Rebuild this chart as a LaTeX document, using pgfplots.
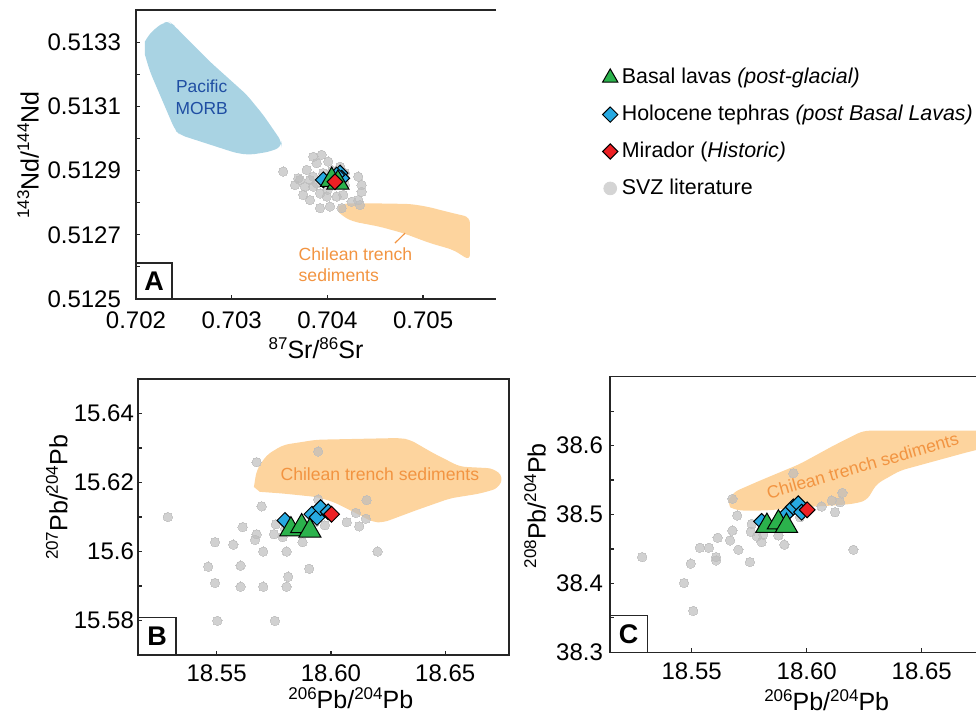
\documentclass[border=0pt]{standalone}
\usepackage{pgfplots}
\pgfplotsset{compat=1.18}
\usepackage{fontspec}
\setmainfont{Liberation Sans}
\definecolor{morb}{HTML}{A9D3E3}
\definecolor{morbtxt}{HTML}{1F4EA3}
\definecolor{sedfill}{HTML}{FDD49E}
\definecolor{sedtxt}{HTML}{F29441}
\definecolor{grn}{HTML}{2BB24C}
\definecolor{blu}{HTML}{27A9E1}
\definecolor{rd}{HTML}{ED2024}
\definecolor{svz}{HTML}{BDBDBD}
\definecolor{svzl}{HTML}{D4D4D4}
\newcommand{\sups}[1]{\raisebox{0.72ex}{\fontsize{8.5}{8.5}\selectfont #1}}
\pgfplotsset{
  panel/.style={scale only axis, anchor=south west,
    axis line style={line width=0.75pt, black!85},
    tick align=inside, tick pos=left,
    major tick length=2.2pt, minor tick length=2.2pt,
    every tick/.style={black!85, line width=0.6pt},
    tick label style={font=\fontsize{12}{14}\selectfont},
    clip=true},
  svzp/.style={only marks, mark=*, color=svz, mark size=2.35pt, mark options={draw=svz, fill=svz, line width=0pt, opacity=0.7}, forget plot},
  basal/.style={only marks, mark=triangle*, mark size=6.4pt, mark options={draw=black, line width=0.5pt, fill=grn}, forget plot},
  holo/.style={only marks, mark=square*, mark size=2.8pt, mark options={rotate=45, draw=black, line width=0.5pt, fill=blu}, forget plot},
  mira/.style={only marks, mark=square*, mark size=2.8pt, mark options={rotate=45, draw=black, line width=0.5pt, fill=rd}, forget plot},
}
\begin{document}
\begin{tikzpicture}
\useasboundingbox (0pt,0pt) rectangle (488pt,356.5pt);
\clip (0pt,0pt) rectangle (488pt,356.5pt);

% ---------------- Panel A ----------------
\begin{axis}[panel, at={(68pt,207pt)}, width=180pt, height=144.5pt, clip=false,
  axis line style={draw=none},
  xmin=0.702, xmax=0.705762, ymin=0.5125, ymax=0.5134,
  xtick={0.702,0.703,0.704,0.705}, xticklabels={0.702,0.703,0.704,0.705},
  ytick={0.5125,0.5127,0.5129,0.5131,0.5133}, yticklabels={0.5125,0.5127,0.5129,0.5131,0.5133},
  minor ytick={0.5126,0.5128,0.5130,0.5132},
  yticklabel style={xshift=-4pt}, xticklabel style={yshift=-3pt},
  legend cell align=left,
  legend image code/.code={\draw[#1] plot coordinates {(0pt,0pt)};},
  legend style={at={(1.295,0.813)}, anchor=north west, draw=none, fill=none,
    font=\fontsize{10.7}{12.8}\selectfont, row sep=5.2pt, inner sep=0pt},
]
\addlegendimage{mark=triangle*, mark size=4.4pt, mark options={draw=black, line width=0.5pt, fill=grn}}
\addlegendentry{Basal lavas \textit{(post-glacial)}}
\addlegendimage{mark=square*, mark size=2.7pt, mark options={rotate=45, draw=black, line width=0.5pt, fill=blu}}
\addlegendentry{Holocene tephras \textit{(post Basal Lavas)}}
\addlegendimage{mark=square*, mark size=2.7pt, mark options={rotate=45, draw=black, line width=0.5pt, fill=rd}}
\addlegendentry{Mirador (\textit{Historic)}}
\addlegendimage{mark=*, mark size=3.2pt, mark options={draw=svzl, fill=svzl}}
\addlegendentry{SVZ literature}

\addplot[fill=morb, draw=none, rounded corners=3pt, forget plot] coordinates {
 (0.702094,0.513302) (0.702146,0.513328) (0.702285,0.513362) (0.702355,0.513362) (0.702390,0.513354)
 (0.702773,0.513239) (0.703157,0.513136) (0.703330,0.513073) (0.703522,0.512990) (0.703522,0.512974)
 (0.703400,0.512959) (0.703191,0.512949) (0.703052,0.512954) (0.702460,0.513011) (0.702408,0.513026)
 (0.702146,0.513208) (0.702094,0.513260)};
\addplot[fill=sedfill, draw=none, rounded corners=3pt, forget plot] coordinates {
 (0.704114,0.512788) (0.704166,0.512798) (0.704445,0.512798) (0.704863,0.512796) (0.705038,0.512788)
 (0.705316,0.512767) (0.705490,0.512755) (0.705490,0.512620) (0.705316,0.512653) (0.705072,0.512674)
 (0.704793,0.512705) (0.704550,0.512725) (0.704271,0.512741) (0.704166,0.512756) (0.704114,0.512772)};
\addplot[sedtxt, line width=0.6pt, forget plot] coordinates {(0.704706,0.512674) (0.704811,0.512705)};
\node[text=morbtxt, align=center, font=\fontsize{8.7}{10.8}\selectfont] at (axis cs:0.702686,0.513128) {Pacific\\MORB};
\node[text=sedtxt, align=left, anchor=west, inner sep=0pt, font=\fontsize{8.8}{10.5}\selectfont] at (axis cs:0.703696,0.512607) {Chilean trench\\sediments};
\addplot[svzp] coordinates {
 (0.703539,0.512897) (0.703940,0.512949) (0.703888,0.512923) (0.704009,0.512928) (0.703784,0.512902)
 (0.703696,0.512876) (0.703661,0.512855) (0.703748,0.512824) (0.703818,0.512808) (0.703923,0.512783)
 (0.704027,0.512788) (0.704149,0.512783) (0.704323,0.512881) (0.704358,0.512855) (0.704358,0.512834)
 (0.704323,0.512808) (0.703853,0.512881) (0.703853,0.512850) (0.703923,0.512829) (0.703993,0.512819)
 (0.704097,0.512819) (0.704166,0.512824) (0.704184,0.512855) (0.704184,0.512892) (0.704132,0.512912)
 (0.703818,0.512871) (0.703766,0.512850) (0.703888,0.512860) (0.703957,0.512892) (0.704254,0.512803)
 (0.703714,0.512871) (0.703853,0.512943) (0.704341,0.512793) (0.703950,0.512870) (0.704050,0.512900)
 (0.704000,0.512840) (0.704100,0.512860)};
\addplot[holo] coordinates {(0.703957,0.512871) (0.704132,0.512892) (0.704149,0.512876) (0.704097,0.512886)};
\addplot[basal] coordinates {(0.704045,0.512871) (0.704110,0.512862)};
\addplot[mira] coordinates {(0.704079,0.512865)};
\draw[line width=0.75pt, black!85] (rel axis cs:1,1) -- (rel axis cs:0,1) -- (rel axis cs:0,0) -- (rel axis cs:1,0);
\end{axis}

% ---------------- Panel B ----------------
\begin{axis}[panel, at={(69pt,29pt)}, width=185.5pt, height=138pt,
  xmin=18.5156, xmax=18.6779, ymin=15.57, ymax=15.65,
  xtick={18.55,18.60,18.65}, xticklabels={18.55,18.60,18.65},
  ytick={15.58,15.60,15.62,15.64}, yticklabels={15.58,15.6,15.62,15.64},
  minor ytick={15.59,15.61,15.63},
  yticklabel style={xshift=1.5pt}, xticklabel style={yshift=-1.5pt},
]
\addplot[fill=sedfill, draw=none, rounded corners=3pt, forget plot] coordinates {
 (18.5663,15.6187) (18.5675,15.6236) (18.5719,15.6280) (18.5791,15.6309) (18.5937,15.6324)
 (18.6302,15.6329) (18.6346,15.6324) (18.6448,15.6285) (18.6564,15.6246) (18.6710,15.6241)
 (18.6754,15.6217) (18.6732,15.6183) (18.6652,15.6168) (18.6521,15.6154) (18.6375,15.6120)
 (18.6229,15.6084) (18.6185,15.6085) (18.6083,15.6120) (18.6010,15.6144) (18.5937,15.6158)
 (18.5791,15.6168) (18.5689,15.6173)};
\node[text=sedtxt, font=\fontsize{8.8}{10.5}\selectfont] at (axis cs:18.6214,15.6224) {Chilean trench sediments};
\addplot[svzp] coordinates {
 (18.5286,15.6100) (18.5675,15.6259) (18.5944,15.6290) (18.5697,15.6131) (18.5614,15.6071)
 (18.5675,15.6050) (18.5668,15.6034) (18.5759,15.6079) (18.5751,15.6050) (18.5789,15.6042)
 (18.5493,15.6027) (18.5573,15.6020) (18.5704,15.6000) (18.5806,15.6000) (18.5463,15.5956)
 (18.5605,15.5959) (18.5905,15.5950) (18.5813,15.5927) (18.5493,15.5909) (18.5605,15.5898)
 (18.5704,15.5898) (18.5806,15.5898) (18.5503,15.5799) (18.5755,15.5799) (18.6204,15.6000)
 (18.6069,15.6085) (18.6124,15.6073) (18.6109,15.6112) (18.6153,15.6095) (18.6156,15.6149)
 (18.5944,15.6151) (18.5974,15.6076) (18.5876,15.6027) (18.5799,15.6066) (18.5930,15.6085)};
\addplot[holo] coordinates {(18.5799,15.6090) (18.5917,15.6108) (18.5939,15.6099) (18.5955,15.6127) (18.5988,15.6115)};
\addplot[basal] coordinates {(18.5825,15.6064) (18.5872,15.6073) (18.5908,15.6060)};
\addplot[mira] coordinates {(18.6003,15.6108)};
\end{axis}

% ---------------- Panel C ----------------
\begin{axis}[panel, at={(305pt,30.35pt)}, width=187.5pt, height=137.8pt,
  xmin=18.5145, xmax=18.6775, ymin=38.3, ymax=38.7,
  xtick={18.55,18.60,18.65}, xticklabels={18.55,18.60,18.65},
  ytick={38.3,38.4,38.5,38.6}, yticklabels={38.3,38.4,38.5,38.6},
  minor ytick={38.35,38.45,38.55,38.65},
  yticklabel style={xshift=0pt}, xticklabel style={yshift=-1.5pt},
]
\addplot[fill=sedfill, draw=none, rounded corners=3pt, forget plot] coordinates {
 (18.5659,38.5203) (18.5681,38.5323) (18.5797,38.5492) (18.5971,38.5734) (18.6116,38.5999)
 (18.6246,38.6216) (18.6797,38.6216) (18.6797,38.5984) (18.6696,38.5902) (18.6406,38.5637)
 (18.6304,38.5444) (18.6261,38.5203) (18.6203,38.5155) (18.6116,38.5130) (18.5971,38.5106)
 (18.5826,38.5058) (18.5696,38.5058) (18.5667,38.5106)};
\node[text=sedtxt, rotate=16, font=\fontsize{8.8}{10.5}\selectfont] at (axis cs:18.6243,38.5709) {Chilean trench sediments};
\addplot[svzp] coordinates {
 (18.5285,38.4382) (18.5467,38.4006) (18.5496,38.4287) (18.5507,38.3601) (18.5536,38.4518)
 (18.5575,38.4518) (18.5606,38.4382) (18.5606,38.4334) (18.5613,38.4663) (18.5667,38.4624)
 (18.5677,38.4768) (18.5698,38.4986) (18.5703,38.4489) (18.5753,38.4310) (18.5757,38.4750)
 (18.5761,38.4865) (18.5783,38.4682) (18.5804,38.4599) (18.5811,38.4706) (18.5877,38.4696)
 (18.5903,38.4562) (18.5942,38.5598) (18.5677,38.5227) (18.6065,38.5116) (18.6109,38.5203)
 (18.6123,38.5033) (18.6145,38.5178) (18.6155,38.5314) (18.6203,38.4489) (18.5971,38.4961)
 (18.5811,38.4816)};
\addplot[holo] coordinates {(18.5804,38.4899) (18.5913,38.5010) (18.5942,38.5109) (18.5963,38.5155) (18.5978,38.5033)};
\addplot[basal] coordinates {(18.5827,38.4834) (18.5877,38.4884) (18.5912,38.4834)};
\addplot[mira] coordinates {(18.6002,38.5068)};
\end{axis}

% axis labels
\begin{scope}[font=\fontsize{12.5}{15}\selectfont]
\node[rotate=90] at (14pt,279pt) {\sups{143}Nd/\sups{144}Nd};
\node at (158pt,182.5pt) {\sups{87}Sr/\sups{86}Sr};
\node[rotate=90] at (28.35pt,107.75pt) {\sups{207}Pb/\sups{204}Pb};
\node at (175.4pt,7.35pt) {\sups{206}Pb/\sups{204}Pb};
\node[rotate=90] at (267.5pt,103.6pt) {\sups{208}Pb/\sups{204}Pb};
\node at (413.35pt,6.5pt) {\sups{206}Pb/\sups{204}Pb};
\end{scope}
% panel letters
\begin{scope}[font=\bfseries\fontsize{13.5}{14}\selectfont]
\draw[line width=0.75pt, black!85] (68pt,225pt) rectangle (86pt,207pt);
\node at (77pt,216pt) {A};
\draw[line width=0.75pt, black!85] (69pt,47.65pt) rectangle (88pt,29pt);
\node at (78.5pt,38.3pt) {B};
\draw[line width=0.75pt, black!85] (305pt,48.65pt) rectangle (323.65pt,30.35pt);
\node at (314.35pt,39.5pt) {C};
\end{scope}
\end{tikzpicture}
\end{document}
